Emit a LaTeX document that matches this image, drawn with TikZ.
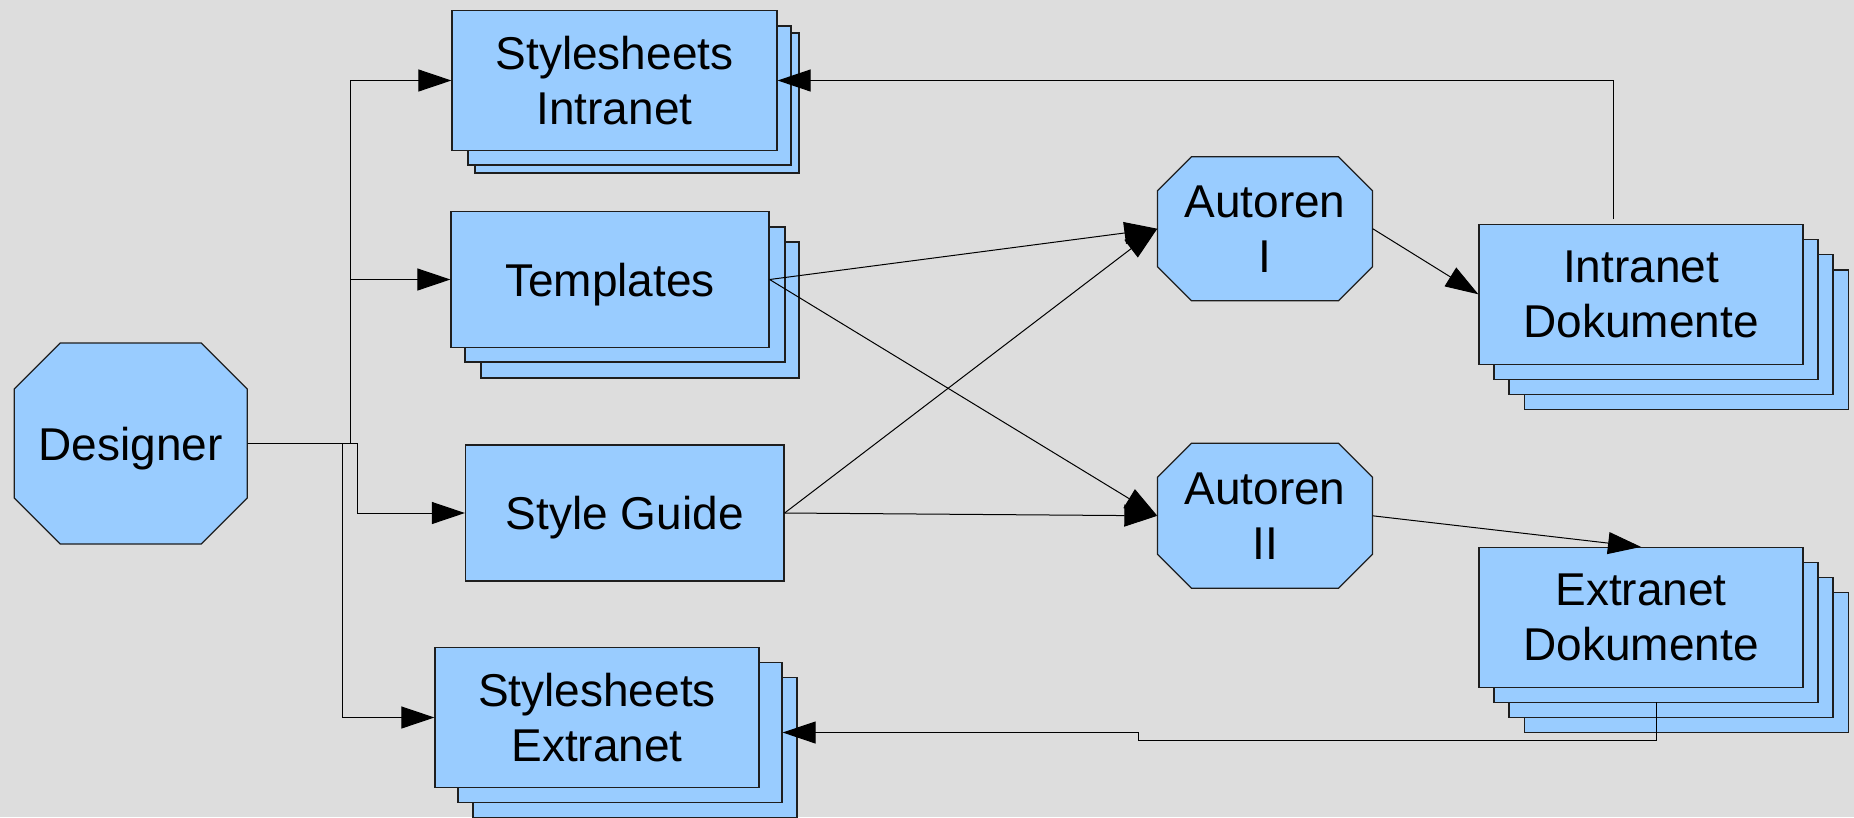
\documentclass[tikz,border=0pt]{standalone}
\usepackage{fontspec}
\setmainfont{Liberation Sans}
\usetikzlibrary{arrows.meta}
\definecolor{bgc}{RGB}{221,221,221}
\definecolor{boxc}{RGB}{153,204,255}
\definecolor{edgec}{RGB}{30,30,30}
\tikzset{
  boxstyle/.style={draw=edgec, line width=1.2pt, fill=boxc, inner sep=0pt, align=center,
    text depth=0pt, font=\fontsize{46pt}{55pt}\selectfont},
  shadowbox/.style={draw=edgec, line width=1.2pt, fill=boxc},
  octbox/.style={draw=edgec, line width=1.2pt, fill=boxc},
  lbl/.style={inner sep=0pt, align=center, text depth=0pt, font=\fontsize{46pt}{55pt}\selectfont},
  conn/.style={draw=black, line width=1pt, -{Triangle[length=33pt,width=22pt]}}
}
% name, cx, cy, w, h, cut, text
\newcommand\octnode[7]{%
  \draw[octbox] ({#2-#4/2+#6},{#3-#5/2}) -- ({#2+#4/2-#6},{#3-#5/2}) -- ({#2+#4/2},{#3-#5/2+#6})
    -- ({#2+#4/2},{#3+#5/2-#6}) -- ({#2+#4/2-#6},{#3+#5/2}) -- ({#2-#4/2+#6},{#3+#5/2})
    -- ({#2-#4/2},{#3+#5/2-#6}) -- ({#2-#4/2},{#3-#5/2+#6}) -- cycle;
  \node[lbl, minimum width=#4pt, minimum height=#5pt] (#1) at (#2,#3) {#7};}
\begin{document}
\begin{tikzpicture}[x=1pt,y=-1pt]
\useasboundingbox (0,0) rectangle (1854,817);
\clip (0,0) rectangle (1854,817);
\fill[bgc] (0,0) rectangle (1854,817);

% Designer
\octnode{designer}{130.8}{443.5}{233}{201}{46}{Designer}

% Stylesheets Intranet
\draw[shadowbox] (475,33) rectangle (799,173);
\draw[shadowbox] (468,26) rectangle (791,165);
\node[boxstyle, minimum width=325pt, minimum height=139.6pt] (si) at (614.5,80.5) {Stylesheets\\Intranet};

% Templates
\draw[shadowbox] (481,242) rectangle (799,378);
\draw[shadowbox] (465,227) rectangle (785,362);
\node[boxstyle, minimum width=318pt, minimum height=135.6pt] (tpl) at (610,279.5) {Templates};

% Style Guide
\node[boxstyle, minimum width=318.5pt, minimum height=136pt] (sg) at (624.75,513) {Style Guide};

% Stylesheets Extranet
\draw[shadowbox] (473,677.7) rectangle (797,817.3);
\node[boxstyle, minimum width=324pt, minimum height=139.6pt] (se2) at (620,732.5) {};
\node[boxstyle, minimum width=324pt, minimum height=139.6pt] (se) at (597,717.5) {Stylesheets\\Extranet};

% Autoren
\octnode{a1}{1265}{228.7}{215}{144}{34}{Autoren\\I}
\octnode{a2}{1265}{515.8}{215}{145}{34}{Autoren\\II}

% Intranet Dokumente
\draw[shadowbox] (1524.5,270) rectangle (1848.5,409.5);
\draw[shadowbox] (1509,254.5) rectangle (1833,394.3);
\draw[shadowbox] (1494,239.3) rectangle (1818,379.3);
\node[boxstyle, minimum width=324pt, minimum height=140pt] (id) at (1641,294.3) {Intranet\\Dokumente};

% Extranet Dokumente
\draw[shadowbox] (1524.5,592.7) rectangle (1848.5,732.3);
\draw[shadowbox] (1509,577.7) rectangle (1833,717.3);
\draw[shadowbox] (1494,562.7) rectangle (1818,702.3);
\node[boxstyle, minimum width=324pt, minimum height=140pt] (ed) at (1641,617.5) {Extranet\\Dokumente};

% Connectors from Designer
\draw[conn] (designer.east) -- ([xshift=102.6pt]designer.east) |- (si.west);
\draw[conn] (designer.east) -- ([xshift=102.6pt]designer.east) |- (tpl.west);
\draw[conn] (designer.east) -- ([xshift=109.9pt]designer.east) |- (sg.west);
\draw[conn] (designer.east) -- ([xshift=94.7pt]designer.east) |- (se.west);

% Templates / Style Guide to Autoren
\draw[conn] (tpl.east) -- (a1.west);
\draw[conn] (tpl.east) -- (a2.west);
\draw[conn] (sg.east) -- (a1.west);
\draw[conn] (sg.east) -- (a2.west);

% Autoren to documents
\draw[conn] (a1.east) -- (id.west);
\draw[conn] (a2.east) -- (ed.north);

% Return connectors
\coordinate (idr) at (1613.5,219);
\draw[conn] (idr) |- (si.east);
\coordinate (edr) at (1656,702.3);
\coordinate (edb1) at (1656,740);
\coordinate (edb2) at (1138,740);
\coordinate (edb3) at (1138,732.5);
\draw[conn] (edr) -- (edb1) -- (edb2) -- (edb3) -- (se2.east);
\end{tikzpicture}
\end{document}
